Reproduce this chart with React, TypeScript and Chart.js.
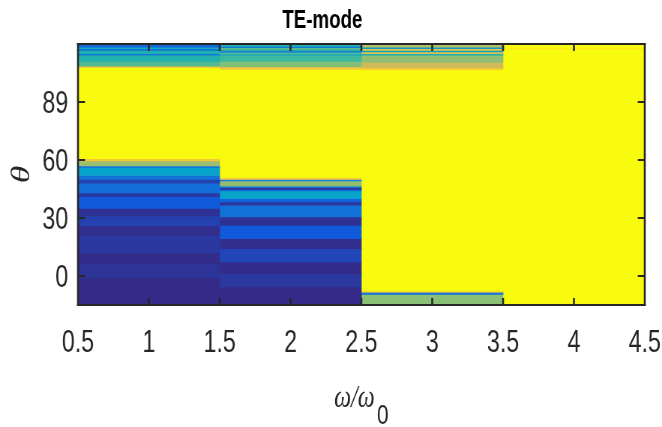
import { useEffect, useRef } from 'react';
import { Chart, registerables } from 'chart.js';

Chart.register(...registerables);

// ---- data ----
const chartTitle = 'TE-mode';
const yTitle = 'θ';
const xTitleMain = 'ω/ω';
const xTitleSub = '0';

const xCategories = [1, 2, 3, 4];
const xTickValues = [0.5, 1, 1.5, 2, 2.5, 3, 3.5, 4, 4.5];
const xTickLabels = ['0.5', '1', '1.5', '2', '2.5', '3', '3.5', '4', '4.5'];
const yTickValues = [0, 30, 60, 90];
const yTickLabels = ['0', '30', '60', '89'];
const yMin = -15;
const yMax = 120;

// column 1 (x = 1): cell edges along θ and normalized values
const col1Edges = [-15, -1, 6.5, 12, 21, 26, 31, 35, 41, 43, 48, 50, 52, 56, 57, 59.5, 60.7, 107.8, 108.5, 111, 114.2, 115, 116.7, 117.6, 118.4, 119.5, 120];
const col1Values = [0.0, 0.025, 0.005, 0.035, 0.01, 0.06, 0.02, 0.12, 0.04, 0.19, 0.06, 0.2, 0.37, 0.22, 0.66, 0.85, 1.0, 0.85, 0.55, 0.47, 0.22, 0.45, 0.2, 0.42, 0.15, 0.3];

// column 2 (x = 2)
const col2Edges = [-15, -5.7, 1.2, 7.3, 14.2, 19.3, 26.2, 30.5, 36.6, 38.3, 40, 44, 44.7, 45.7, 46.4, 49.2, 49.9, 50.9, 106.8, 108.1, 111, 114.2, 114.7, 115.7, 116.8, 118.1, 118.8, 120];
const col2Values = [0.0, 0.035, 0.005, 0.07, 0.01, 0.12, 0.02, 0.2, 0.03, 0.15, 0.37, 0.18, 0.04, 0.2, 0.64, 0.25, 0.85, 1.0, 0.85, 0.62, 0.52, 0.35, 0.55, 0.28, 0.55, 0.22, 0.45];

// column 3 (x = 3)
const col3Edges = [-15, -9.5, -8.5, -7.8, 106.6, 107.5, 110.5, 114.2, 115, 115.9, 116.7, 117.6, 118.4, 120];
const col3Values = [0.63, 0.2, 0.8, 1.0, 0.9, 0.75, 0.64, 0.45, 0.8, 0.38, 0.82, 0.35, 0.7];

// column 4 (x = 4)
const col4Edges = [-15, 117.3, 118, 120];
const col4Values = [1.0, 0.95, 1.0];

// parula colormap stops
const parulaStops = ['#352a87', '#0f5cdd', '#1481d6', '#06a4ca', '#2eb7a4', '#87bf77', '#d1bb59', '#fec832', '#f9fb0e'];

const SANS = "'Liberation Sans', Arial, sans-serif";
const SERIF = "'Liberation Serif', 'DejaVu Serif', serif";
const FRAME = '#262626';

// the figure is drawn wide and squeezed horizontally (condensed look of the original)
const PAGE_W = 662;
const PAGE_H = 427;
const DRAW_W = 883;
const SQUEEZE = PAGE_W / DRAW_W;

function hexToRgb(h: string) {
  const n = parseInt(h.slice(1), 16);
  return [(n >> 16) & 255, (n >> 8) & 255, n & 255];
}

function parula(v: number) {
  const t = Math.max(0, Math.min(1, v)) * (parulaStops.length - 1);
  const i = Math.min(parulaStops.length - 2, Math.floor(t));
  const f = t - i;
  const a = hexToRgb(parulaStops[i]);
  const b = hexToRgb(parulaStops[i + 1]);
  const c = a.map((av, k) => Math.round(av + (b[k] - av) * f));
  return `rgb(${c[0]},${c[1]},${c[2]})`;
}

const framePlugin = {
  id: 'frame',
  afterDatasetsDraw(chart: any) {
    const { ctx, chartArea } = chart;
    const { left, right, top, bottom } = chartArea;
    const x = chart.scales.x;
    const y = chart.scales.y;
    const tl = 7;
    ctx.save();
    ctx.strokeStyle = FRAME;
    // vertical strokes (thicker to survive the horizontal squeeze)
    ctx.lineWidth = 2.6;
    ctx.beginPath();
    xTickValues.forEach((v) => {
      const px = x.getPixelForValue(v);
      ctx.moveTo(px, bottom);
      ctx.lineTo(px, bottom - tl);
      ctx.moveTo(px, top);
      ctx.lineTo(px, top + tl);
    });
    ctx.moveTo(left, top - 1);
    ctx.lineTo(left, bottom + 1);
    ctx.moveTo(right, top - 1);
    ctx.lineTo(right, bottom + 1);
    ctx.stroke();
    // horizontal strokes
    ctx.lineWidth = 2;
    ctx.beginPath();
    yTickValues.forEach((v) => {
      const py = y.getPixelForValue(v);
      ctx.moveTo(left, py);
      ctx.lineTo(left + tl / SQUEEZE, py);
      ctx.moveTo(right, py);
      ctx.lineTo(right - tl / SQUEEZE, py);
    });
    ctx.moveTo(left - 1.3, top);
    ctx.lineTo(right + 1.3, top);
    ctx.moveTo(left - 1.3, bottom);
    ctx.lineTo(right + 1.3, bottom);
    ctx.stroke();
    ctx.restore();
  },
};

const xTitlePlugin = {
  id: 'xTitle',
  afterDraw(chart: any) {
    const { ctx, chartArea } = chart;
    const cx = (chartArea.left + chartArea.right) / 2;
    ctx.save();
    ctx.fillStyle = FRAME;
    ctx.textBaseline = 'alphabetic';
    ctx.textAlign = 'left';
    const mainFont = `italic 32px ${SERIF}`;
    const subFont = `28px ${SANS}`;
    ctx.font = mainFont;
    const wMain = ctx.measureText(xTitleMain).width;
    ctx.font = subFont;
    const wSub = ctx.measureText(xTitleSub).width;
    const gap = 3;
    const x0 = cx - (wMain + gap + wSub) / 2;
    ctx.font = mainFont;
    ctx.fillText(xTitleMain, x0, chartArea.bottom + 102);
    ctx.font = subFont;
    ctx.fillText(xTitleSub, x0 + wMain + gap, chartArea.bottom + 119);
    ctx.restore();
  },
};

export default function App() {
  const ref = useRef<HTMLCanvasElement | null>(null);

  useEffect(() => {
    if (!ref.current) return;
    const columns = [
      { x: xCategories[0], edges: col1Edges, values: col1Values },
      { x: xCategories[1], edges: col2Edges, values: col2Values },
      { x: xCategories[2], edges: col3Edges, values: col3Values },
      { x: xCategories[3], edges: col4Edges, values: col4Values },
    ];
    const datasets = columns.map((c) => ({
      type: 'bar' as const,
      xAxisID: 'xb',
      yAxisID: 'y',
      data: c.values.map((_, i) => ({ x: c.x, y: [c.edges[i], c.edges[i + 1]] })),
      backgroundColor: c.values.map(parula),
      borderWidth: 0,
      grouped: false,
      barPercentage: 1,
      categoryPercentage: 1,
    }));

    const chart = new Chart(ref.current, {
      type: 'bar',
      data: { datasets: datasets as any },
      options: {
        responsive: false,
        animation: false,
        events: [],
        layout: { padding: { left: 0, right: 23, top: 0, bottom: 0 } },
        plugins: {
          legend: { display: false },
          tooltip: { enabled: false },
          title: {
            display: true,
            text: chartTitle,
            color: '#000',
            font: { family: SANS, size: 25, weight: 'bold' },
            padding: { top: 6, bottom: 8 },
          },
        },
        scales: {
          xb: {
            type: 'linear',
            axis: 'x',
            display: false,
            min: xTickValues[0],
            max: xTickValues[xTickValues.length - 1],
            offset: false,
            afterBuildTicks: (s: any) => {
              s.ticks = xCategories.map((v) => ({ value: v }));
            },
          },
          x: {
            type: 'linear',
            position: 'bottom',
            min: xTickValues[0],
            max: xTickValues[xTickValues.length - 1],
            offset: false,
            grid: { display: false, drawTicks: true, tickLength: 15 },
            border: { display: false },
            afterBuildTicks: (s: any) => {
              s.ticks = xTickValues.map((v) => ({ value: v }));
            },
            afterFit: (s: any) => {
              s.height = 122;
              s.paddingLeft = 0;
              s.paddingRight = 0;
            },
            ticks: {
              autoSkip: false,
              maxRotation: 0,
              padding: 5,
              color: FRAME,
              font: { family: SANS, size: 31 },
              callback: (_v: any, i: number) => xTickLabels[i],
            },
          },
          y: {
            type: 'linear',
            min: yMin,
            max: yMax,
            grid: { display: false, drawTicks: false },
            border: { display: false },
            afterBuildTicks: (s: any) => {
              s.ticks = yTickValues.map((v) => ({ value: v }));
            },
            afterFit: (s: any) => {
              s.width = 104;
              s.paddingTop = 0;
              s.paddingBottom = 0;
            },
            ticks: {
              autoSkip: false,
              padding: 13,
              labelOffset: 2,
              color: FRAME,
              font: { family: SANS, size: 31 },
              callback: (_v: any, i: number) => yTickLabels[i],
            },
            title: {
              display: true,
              text: yTitle,
              color: FRAME,
              font: { family: SERIF, size: 36, style: 'italic' },
              padding: { top: 8, bottom: 0 },
            },
          },
        },
      } as any,
      plugins: [framePlugin, xTitlePlugin],
    });
    return () => chart.destroy();
  }, []);

  return (
    <div style={{ position: 'absolute', left: 0, top: 0, width: PAGE_W, height: PAGE_H, overflow: 'hidden', background: '#fff' }}>
      <canvas
        ref={ref}
        width={DRAW_W}
        height={PAGE_H}
        style={{ display: 'block', width: DRAW_W, height: PAGE_H, transform: `scaleX(${SQUEEZE})`, transformOrigin: '0 0' }}
      />
    </div>
  );
}
